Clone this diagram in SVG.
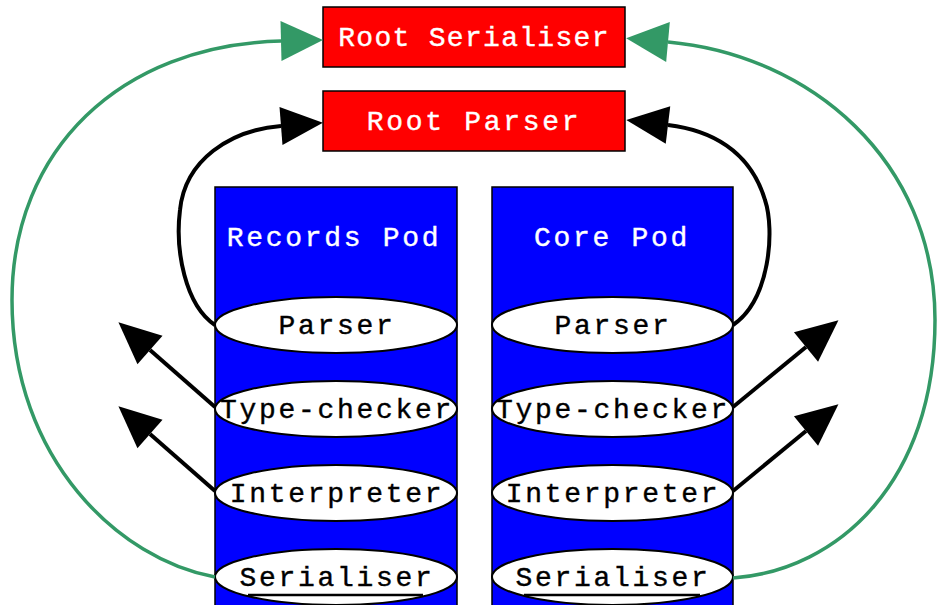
<svg xmlns="http://www.w3.org/2000/svg" width="937" height="605" viewBox="0 0 937 605">
<style>
  .root rect { fill: #ff0000; stroke: #000; stroke-width: 1.5; }
  .root text { fill: #fff; }
  .pod rect { fill: #0000ff; stroke: #000; stroke-width: 1.5; }
  .pod text { fill: #fff; }
  .stage ellipse { fill: #fff; stroke: #000; stroke-width: 2; }
  .stage text { fill: #000; }
  text { font-family: "Liberation Mono", "DejaVu Sans Mono", monospace; font-size: 28px; letter-spacing: 2.7px; text-anchor: middle; stroke-width: 0.4px; }
  .stage text { stroke: #000; }
  .root text, .pod text { stroke: #fff; }
  .blk { fill: none; stroke: #000; stroke-width: 4; }
  .grn { fill: none; stroke: #339966; stroke-width: 3.5; }
  .under { stroke: #000; stroke-width: 2.5; }
</style>
<defs>
  <marker id="ab" markerUnits="userSpaceOnUse" markerWidth="44" markerHeight="40" refX="0" refY="19" orient="auto" overflow="visible">
    <path d="M0,0 L42,19 L0,38 z" fill="#000"/>
  </marker>
  <marker id="ag" markerUnits="userSpaceOnUse" markerWidth="44" markerHeight="42" refX="0" refY="20" orient="auto" overflow="visible">
    <path d="M0,0 L42,20 L0,40 z" fill="#339966"/>
  </marker>
</defs>

<g id="root-serialiser" class="root">
  <rect x="323" y="7" width="302" height="60"/>
  <text x="474" y="46" style="letter-spacing:1.3px">Root Serialiser</text>
</g>
<g id="root-parser" class="root">
  <rect x="323" y="91" width="302" height="60"/>
  <text x="474" y="130">Root Parser</text>
</g>

<g id="records-pod" class="pod">
  <rect x="215" y="187" width="242" height="430"/>
  <text x="334" y="246">Records Pod</text>
</g>
<g id="core-pod" class="pod">
  <rect x="492" y="187" width="241" height="430"/>
  <text x="612" y="246">Core Pod</text>
</g>

<g id="records-parser" class="stage">
  <ellipse cx="336" cy="325" rx="121" ry="28"/>
  <text x="337" y="334">Parser</text>
</g>
<g id="records-typechecker" class="stage">
  <ellipse cx="336" cy="409" rx="121" ry="28"/>
  <text x="337" y="418">Type-checker</text>
</g>
<g id="records-interpreter" class="stage">
  <ellipse cx="336" cy="493" rx="121" ry="28"/>
  <text x="337" y="502">Interpreter</text>
</g>
<g id="records-serialiser" class="stage">
  <ellipse cx="336" cy="577" rx="121" ry="28"/>
  <text x="337" y="586">Serialiser</text>
  <line class="under" x1="248" y1="595" x2="423" y2="595"/>
</g>

<g id="core-parser" class="stage">
  <ellipse cx="612.5" cy="325" rx="120.5" ry="28"/>
  <text x="613" y="334">Parser</text>
</g>
<g id="core-typechecker" class="stage">
  <ellipse cx="612.5" cy="409" rx="120.5" ry="28"/>
  <text x="613" y="418">Type-checker</text>
</g>
<g id="core-interpreter" class="stage">
  <ellipse cx="612.5" cy="493" rx="120.5" ry="28"/>
  <text x="613" y="502">Interpreter</text>
</g>
<g id="core-serialiser" class="stage">
  <ellipse cx="612.5" cy="577" rx="120.5" ry="28"/>
  <text x="613" y="586">Serialiser</text>
  <line class="under" x1="524" y1="595" x2="700" y2="595"/>
</g>

<g id="connectors">
  <path class="blk" marker-end="url(#ab)" d="M215,325 C185,305 175,250 180,210 C185,160 230,130 281,126"/>
  <path class="blk" marker-end="url(#ab)" d="M733,325 C770,300 775,230 765,200 C750,150 710,130 668,125"/>
  <path class="grn" marker-end="url(#ag)" d="M215,577 C120,560 12,460 12,300 C12,150 120,45 281,41"/>
  <path class="grn" marker-end="url(#ag)" d="M733,578 C840,570 935,480 935,320 C935,160 810,55 668,42"/>
  <path class="blk" marker-end="url(#ab)" d="M215,407 L150,350"/>
  <path class="blk" marker-end="url(#ab)" d="M215,491 L150,434"/>
  <path class="blk" marker-end="url(#ab)" d="M733,407 L806,347"/>
  <path class="blk" marker-end="url(#ab)" d="M733,491 L806,431"/>
</g>
</svg>
